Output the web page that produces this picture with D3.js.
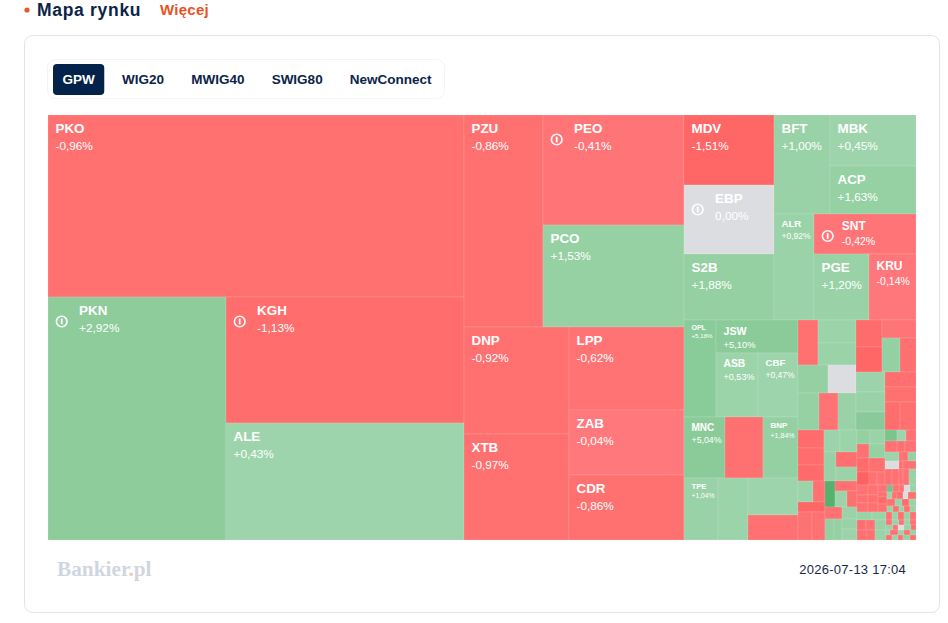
<!DOCTYPE html>
<html>
<head>
<meta charset="utf-8">
<script src="https://cdn.jsdelivr.net/npm/d3@7"></script>
<style>
    body { margin: 0; background: #fff; }
    svg { display: block; font-family: "Liberation Sans", Arial, sans-serif; }
</style>
</head>
<body>
<div class="mapa"></div>
<script>
const tabs = ["GPW", "WIG20", "MWIG40", "SWIG80", "NewConnect"];
const flagged = ["PKN", "KGH", "PEO", "EBP", "SNT"];

// listed in the order the tree below is walked, unnamed cells have no label
const tickers = [
    "PKO", "PKN", "KGH", "ALE",
    "PZU", "PEO", "PCO", "DNP", "XTB", "LPP", "ZAB", "CDR",
    "MDV", "EBP", "S2B", "BFT", "MBK", "ACP", "ALR", "SNT", "PGE", "KRU",
    "OPL", "JSW", "ASB", "CBF", "MNC", "", "BNP", "TPE"
];

const weights = [
    75712, 43254, 29988, 27846,
    16748, 15510, 14382, 11235, 11130, 9545, 7475, 7475,
    6300, 6210, 5940, 5520, 4400, 4100, 4240, 4080, 3630, 3102,
    3104, 2706, 2688, 2560, 2501, 2318, 2135, 2108, 1860, 1850, 1250,
    900, 874, 836, 840, 784, 777, 703, 666,
    702, 650, 612, 612, 544, 580, 580, 522, 465, 465, 420, 448,
    468, 442, 416, 352, 374, 348, 315, 294,
    315, 252, 270, 392, 364,
    260, 220, 192, 160, 204, 180, 178, 178, 150, 165,
    182, 210, 168, 224, 168, 224, 156, 104, 104,
    132, 99, 110, 132, 88, 121, 126, 81, 72, 112, 32, 104, 112, 112, 64, 96, 112,
    110, 100, 88, 80, 99, 90, 63, 45, 63, 72,
    42, 42, 35, 42, 42, 35, 35, 42, 35, 56, 56, 49, 49, 49, 36, 36, 30, 36, 36,
    120, 112, 48, 48, 48, 48, 48,
    90, 90, 100, 100, 80, 100,
    30, 36, 24, 30, 30, 36, 24, 30, 36, 24, 24, 36, 30, 30, 30, 30, 30, 24, 36, 30
];

const changes = [
    -0.96, 2.92, -1.13, 0.43,
    -0.86, -0.41, 1.53, -0.92, -0.97, -0.62, -0.04, -0.86,
    -1.51, 0.00, 1.88, 1.00, 0.45, 1.63, 0.92, -0.42, 1.20, -0.14,
    5.18, 5.10, 0.53, 0.47, 5.04, -0.9, 1.84, 1.04, 0.5, 0.4, -0.8,
    -0.9, 0.5, 0.9, 1.8, 0.00, 1.5, -0.6, 1.2,
    -1.2, -1.5, -0.5, 1.9, -0.9, 0.6, 1.1, 5.5, -1.0, -0.9, -1.1, -0.9,
    -1.2, -1.1, -1.3, 0.6, 0.5, 1.4, -1.0, 0.9,
    0.5, -0.8, -1.5, -0.7, -0.8,
    14, -0.9, 0.5, -0.9, -0.8, 0.9, 1.8, 1.6, 1.2, 0.6,
    1.9, 0.9, -0.9, 1.5, -1.2, -0.9, -2.2, -0.8, -0.6,
    8, 0.4, -0.7, -0.8, -0.9, -0.8, 0.4, -0.8, 1.6, 0.00, -1.0, -0.8, -0.9, -0.8, -0.7, -0.8, 1.2,
    -0.8, -0.7, -0.9, -1.0, -0.8, -0.9, -0.7, -0.8, -1.3, -0.9,
    9, -0.8, -0.6, 0.00, 1.0, 0.5, -0.8, -1.1, 0.00, -0.9, -0.8, 1.1, -1.2, 0.8, 1.2, -0.8, 0.7, -0.9, 1.0,
    1.2, 0.8, -0.7, 0.7, -0.9, 0.9, -0.8,
    -1.0, -0.8, 1.1, -0.8, -0.9, 0.9,
    -0.8, 1.0, -0.9, 0.8, -0.7, 1.1, -0.8, 0.00, 1.0, -1.0, 0.9, -0.8, 0.7, -0.8, 1.2, -0.9, 0.8, -0.7, 1.3, -0.9
];

// a number n stands for the next n cells. direction changes on every level
const tree = [
    [1, [1, 2]],
    [[1, 2], [2, 3]],
    [
        [3, [[1, 2], [1, [1, 2]]]],
        [
            [[1, [1, 2]], 3, [1, 1, 2]],
            [
                [
                    [[1, 2], 2, 3],
                    [[2, [1, 2]], [3, [1, 1, 2]]]
                ],
                [
                    [
                        [3, [2, [1, 2]]],
                        [[2, 1, 2], [[1, [1, 2]], 2, [1, 1, 2]]]
                    ],
                    [
                        [[2, 2, 2, 3], [3, 3, 3, 3, 5]],
                        [[2, 2, 2], 4, [5, 5, 4, 5]],
                        7,
                        [[3, 3], [5, 5, 5, 5]]
                    ]
                ]
            ]
        ]
    ]
];

const width = 948, height = 623;
const map = { left: 48, top: 115, right: 916, bottom: 540 };

const fmt = v => (v > 0 ? "+" : "") + v.toFixed(2).replace(".", ",") + "%";

var next = 0;
function build(t) {
    if (Array.isArray(t)) return { children: t.map(build) };
    if (t > 1) return { children: d3.range(t).map(() => build(1)) };
    const i = next++;
    return { ticker: tickers[i] || "", weight: weights[i], change: changes[i] };
}

const red = d3.scaleLinear()
    .domain([-4, -1.5, -0.96, -0.04])
    .range(["#ff5252", "#ff6666", "#ff7070", "#ff787c"])
    .clamp(true);
const green = d3.scaleLinear()
    .domain([0.4, 1.5, 3, 6, 15])
    .range(["#9dd4ab", "#96d1a4", "#8ecc9c", "#89ca99", "#4fae69"])
    .clamp(true);
const color = v => v === 0 ? "#dcdde0" : v < 0 ? red(v) : green(v);

const fontSize = d3.scaleLinear()
    .domain([32, 47, 52, 55])
    .range([7, 12, 12, 13.4])
    .clamp(true);

const svg = d3.select(".mapa").append("svg")
    .attr("width", width)
    .attr("height", height);

// header
svg.append("circle")
    .attr("cx", 27).attr("cy", 10).attr("r", 2.6)
    .attr("fill", "#e8562a");
svg.append("text")
    .attr("x", 37).attr("y", 15.9)
    .attr("font-size", 17.5).attr("font-weight", "bold")
    .attr("letter-spacing", 0.7)
    .attr("fill", "#0b2447")
    .text("Mapa rynku");
svg.append("text")
    .attr("x", 160).attr("y", 14.5)
    .attr("font-size", 15).attr("font-weight", "bold")
    .attr("letter-spacing", 0.25)
    .attr("fill", "#e8531f")
    .text("Więcej");

// card
svg.append("rect")
    .attr("x", 24.5).attr("y", 35.5)
    .attr("width", 915).attr("height", 577)
    .attr("rx", 8)
    .attr("fill", "#fff").attr("stroke", "#e2e4e8");

// tabs
svg.append("rect")
    .attr("x", 47.5).attr("y", 59.5)
    .attr("width", 397).attr("height", 39)
    .attr("rx", 8)
    .attr("fill", "#fff").attr("stroke", "#f3f4f6");

var tabX = 53;
tabs.forEach(function (name, i) {
    const label = svg.append("text")
        .attr("x", tabX + 9.5).attr("y", 84)
        .attr("font-size", 13.5).attr("font-weight", "bold")
        .attr("fill", i === 0 ? "#fff" : "#0b2447")
        .text(name);
    const w = label.node().getComputedTextLength();
    if (i === 0) {
        svg.insert("rect", "text:last-of-type")
            .attr("x", tabX).attr("y", 64)
            .attr("width", w + 19).attr("height", 31)
            .attr("rx", 4)
            .attr("fill", "#04234a");
    }
    tabX += w + 27.2;
});

// treemap
const root = d3.hierarchy(build(tree))
    .sum(d => d.weight || 0);

d3.treemap()
    .size([map.right - map.left, map.bottom - map.top])
    .round(true)
    .tile((node, x0, y0, x1, y1) =>
        (node.depth % 2 ? d3.treemapSlice : d3.treemapDice)(node, x0, y0, x1, y1))(root);

const cell = svg.append("g")
    .attr("transform", `translate(${map.left},${map.top})`)
    .selectAll("g")
    .data(root.leaves())
    .enter().append("g")
    .attr("transform", d => `translate(${d.x0},${d.y0})`);

cell.append("rect")
    .attr("width", d => d.x1 - d.x0)
    .attr("height", d => d.y1 - d.y0)
    .attr("fill", d => color(d.data.change))
    .attr("stroke", "#fff")
    .attr("stroke-opacity", 0.13)
    .attr("stroke-width", 1);

const labelled = cell.filter(d => d.data.ticker);

function size(d) {
    return fontSize(Math.min(d.x1 - d.x0, (d.y1 - d.y0) * 1.3));
}
function textX(d) {
    return flagged.includes(d.data.ticker) ? size(d) * 2.32 : 7.5;
}

labelled.append("text")
    .attr("x", textX)
    .attr("y", d => size(d) * 1.02)
    .attr("dy", "0.35em")
    .attr("font-size", size)
    .attr("font-weight", "bold")
    .attr("fill", "#fff")
    .text(d => d.data.ticker);

labelled.append("text")
    .attr("x", textX)
    .attr("y", d => size(d) * 2.3)
    .attr("dy", "0.35em")
    .attr("font-size", d => size(d) * 0.88)
    .attr("fill", "#fff")
    .text(d => fmt(d.data.change));

const icon = labelled.filter(d => flagged.includes(d.data.ticker))
    .append("g")
    .attr("transform", d => `translate(13.7,${size(d) * 1.8 + 0.4})`)
    .attr("fill", "none")
    .attr("stroke", "#fff");
icon.append("circle").attr("r", 5.3).attr("stroke-width", 1.6);
icon.append("path").attr("d", "M0,-2.8V2.8").attr("stroke-width", 1.8);

// footer
const brand = svg.append("text")
    .attr("x", 57).attr("y", 576)
    .attr("font-family", "'Liberation Serif', serif")
    .attr("font-size", 21.3).attr("font-weight", "bold")
    .attr("fill", "#d0d6df");
brand.append("tspan").text("Bankier");
brand.append("tspan").attr("fill", "#f0c9bb").text(".");
brand.append("tspan").text("pl");
svg.append("text")
    .attr("x", 906).attr("y", 574)
    .attr("text-anchor", "end")
    .attr("font-size", 13)
    .attr("letter-spacing", 0.25)
    .attr("fill", "#16294a")
    .text("2026-07-13 17:04");
</script>
</body>
</html>
